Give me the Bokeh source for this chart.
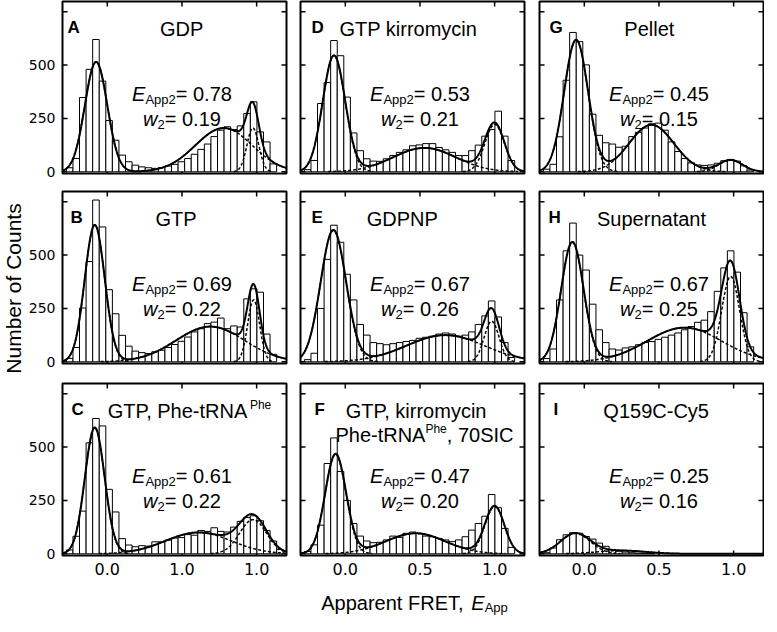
import math
import numpy as np
from bokeh.plotting import figure
from bokeh.models import Range1d, FixedTicker, Label, ColumnDataSource
from bokeh.layouts import column, row
from bokeh.embed import file_html
from bokeh.resources import INLINE

# ---------------- data ----------------
BIN_CENTERS = [-0.252, -0.208, -0.164, -0.120, -0.076, -0.032, 0.012, 0.056, 0.100, 0.144,
               0.188, 0.232, 0.276, 0.320, 0.364, 0.408, 0.452, 0.496, 0.540, 0.584,
               0.628, 0.672, 0.716, 0.760, 0.804, 0.848, 0.892, 0.936, 0.980, 1.024,
               1.068, 1.112, 1.156]
BIN_WIDTH = 0.044

COUNTS_A = [19, 62, 348, 480, 620, 425, 240, 148, 78, 47, 31, 23, 19, 16, 20, 27, 35, 47, 62, 82,
            105, 130, 165, 195, 211, 198, 215, 273, 328, 187, 140, 37, 0]
COUNTS_B = [16, 67, 252, 470, 758, 632, 338, 225, 124, 73, 50, 43, 39, 47, 54, 67, 81, 96, 116, 140,
            155, 179, 186, 205, 155, 168, 163, 295, 342, 326, 130, 35, 0]
COUNTS_C = [18, 82, 200, 520, 634, 599, 302, 196, 71, 41, 33, 38, 36, 56, 56, 64, 74, 76, 90, 87,
            109, 105, 122, 105, 102, 125, 152, 170, 178, 155, 109, 60, 20]
COUNTS_D = [10, 53, 320, 418, 615, 544, 350, 182, 99, 61, 50, 49, 61, 76, 91, 103, 122, 126, 132, 132,
            114, 103, 91, 76, 76, 99, 125, 167, 198, 284, 167, 53, 0]
COUNTS_E = [10, 40, 250, 480, 640, 560, 410, 290, 175, 125, 90, 85, 80, 85, 90, 95, 100, 110, 115, 120,
            130, 135, 130, 120, 125, 140, 175, 215, 285, 210, 90, 20, 0]
COUNTS_F = [11, 42, 134, 423, 543, 386, 250, 142, 83, 60, 52, 54, 65, 83, 77, 96, 102, 96, 83, 80,
            72, 65, 57, 65, 80, 111, 142, 176, 278, 216, 119, 30, 0]
COUNTS_G = [12, 35, 164, 429, 653, 610, 501, 270, 171, 136, 130, 115, 120, 165, 185, 205, 225, 228, 195, 140,
            95, 62, 42, 32, 30, 32, 40, 52, 58, 50, 28, 8, 0]
COUNTS_H = [15, 60, 290, 520, 650, 500, 430, 270, 150, 90, 60, 55, 65, 70, 80, 90, 95, 105, 115, 125,
            135, 150, 165, 185, 195, 235, 330, 440, 520, 420, 230, 70, 0]
COUNTS_I = [5, 27, 66, 89, 99, 96, 81, 69, 50, 35, 20, 12, 8, 5, 3, 2, 1, 0, 0, 0,
            0, 0, 0, 0, 0, 0, 0, 0, 0, 0, 0, 0, 0]

# Gaussian fit components (amplitude, centre, width)
FIT_A = [(515, -0.075, 0.075), (205, 0.78, 0.19), (205, 0.975, 0.04)]
FIT_B = [(641, -0.084, 0.067), (165, 0.69, 0.23), (290, 0.98, 0.04)]
FIT_C = [(591, -0.084, 0.066), (100, 0.61, 0.22), (160, 0.976, 0.09)]
FIT_D = [(544, -0.076, 0.075), (112, 0.53, 0.21), (222, 1.00, 0.065)]
FIT_E = [(616, -0.080, 0.085), (125, 0.67, 0.26), (190, 0.98, 0.05)]
FIT_F = [(466, -0.065, 0.070), (96, 0.47, 0.20), (222, 1.00, 0.065)]
FIT_G = [(618, -0.055, 0.080), (220, 0.45, 0.15), (55, 0.98, 0.08)]
FIT_H = [(560, -0.080, 0.075), (160, 0.67, 0.25), (400, 0.98, 0.06)]
FIT_I = [(95, -0.060, 0.100), (15, 0.25, 0.16)]

LETTERS = ["A", "B", "C", "D", "E", "F", "G", "H", "I"]
E_APP2 = ["0.78", "0.69", "0.61", "0.53", "0.67", "0.47", "0.45", "0.67", "0.25"]
W2 = ["0.19", "0.22", "0.22", "0.21", "0.26", "0.20", "0.15", "0.25", "0.16"]

X_TICKS = [0.0, 0.5, 1.0]
X_TICK_LABELS = ["0.0", "0.5", "1.0"]
X_TICK_LABELS_C = ["0.0", "1.0", "1.0"]
Y_TICKS = [0, 250, 500, 750]
Y_TICK_LABELS = ["0", "250", "500", ""]

Y_LABEL = "Number of Counts"
X_LABEL = "Apparent FRET, "

# ---------------- layout / style ----------------
FW, FH = 224, 172
X0, X1 = -0.3, 1.2
Y0, Y1 = -8, 798
YL_W = 25
COL_BORDERS = [(34, 7), (7, 7), (8, 1)]
ROW_BORDERS = [(1, 9), (9, 10), (10, 26)]
XL_H = 35
FONT = "Liberation Sans"
TICK_FONT = "DejaVu Sans"
TICK_LEN = 5

ARIAL = {' ': 278, ',': 278, '-': 333, '.': 278, '=': 584, 'A': 667, 'C': 722, 'E': 667,
         'F': 611, 'G': 778, 'I': 278, 'N': 722, 'P': 667, 'R': 722, 'S': 667, 'T': 611,
         'a': 556, 'e': 556, 'h': 556, 'n': 556, 'p': 556, 'r': 333, 't': 278, 'w': 722}


def tw(s, size):
    return sum(ARIAL.get(c, 556) for c in s) * size / 1000.0


def ydata(d):
    return Y1 - d * (Y1 - Y0) / FH


def rich(p, x, y, parts, dx=0.0, dy=0.0, align="center"):
    total = sum(tw(t, s) for t, s, _, _ in parts)
    cur = dx - total / 2.0 if align == "center" else dx
    for t, s, style, off in parts:
        p.add_layout(Label(x=x, y=y, x_offset=cur, y_offset=dy + off, text=t,
                           text_font=FONT, text_font_size=f"{s}px", text_font_style=style,
                           text_color="black", text_align="left", text_baseline="alphabetic"))
        cur += tw(t, s)


def style_axis(ax, ticks, labels, size):
    ax.ticker = FixedTicker(ticks=ticks)
    ax.major_label_overrides = {t: l for t, l in zip(ticks, labels)}
    ax.axis_line_color = None
    ax.major_tick_in = 0
    ax.major_tick_out = 0
    ax.minor_tick_in = 0
    ax.minor_tick_out = 0
    ax.major_label_text_font = TICK_FONT
    ax.major_label_text_font_size = f"{size}px"
    ax.major_label_text_color = "black"
    ax.major_label_standoff = 7


def make_panel(i, counts, fit, title_parts, letter_dx, col, rw, xlabels):
    lb, rb = COL_BORDERS[col]
    tb, bb = ROW_BORDERS[rw]
    p = figure(frame_width=FW, frame_height=FH, x_range=Range1d(X0, X1), y_range=Range1d(Y0, Y1),
               output_backend="svg", toolbar_location=None,
               x_axis_location="below" if rw == 2 else None,
               y_axis_location="left" if col == 0 else None,
               min_border_left=lb, min_border_right=rb, min_border_top=tb, min_border_bottom=bb)
    p.grid.visible = False
    p.outline_line_color = "black"
    p.outline_line_width = 2
    p.background_fill_color = "white"
    p.border_fill_color = "white"
    if rw == 2:
        style_axis(p.xaxis[0], X_TICKS, xlabels, 16)
    if col == 0:
        style_axis(p.yaxis[0], Y_TICKS, Y_TICK_LABELS, 14)

    # inward ticks on all four sides
    ly = TICK_LEN * (Y1 - Y0) / FH
    lx = TICK_LEN * (X1 - X0) / FW
    nx, ny = len(X_TICKS), len(Y_TICKS)
    p.segment(x0=X_TICKS, y0=[Y0] * nx, x1=X_TICKS, y1=[Y0 + ly] * nx, line_color="black", line_width=1.5)
    p.segment(x0=X_TICKS, y0=[Y1] * nx, x1=X_TICKS, y1=[Y1 - ly] * nx, line_color="black", line_width=1.5)
    p.segment(x0=[X0] * ny, y0=Y_TICKS, x1=[X0 + lx] * ny, y1=Y_TICKS, line_color="black", line_width=1.5)
    p.segment(x0=[X1] * ny, y0=Y_TICKS, x1=[X1 - lx] * ny, y1=Y_TICKS, line_color="black", line_width=1.5)

    xs_b = [c for c, n in zip(BIN_CENTERS, counts) if n > 0]
    ns_b = [n for n in counts if n > 0]
    src = ColumnDataSource(dict(x=xs_b, top=ns_b))
    p.vbar(x="x", top="top", bottom=0, width=BIN_WIDTH, source=src,
           fill_color="white", line_color="black", line_width=1)

    xs = np.linspace(X0, X1, 600)
    comps = [a * np.exp(-0.5 * ((xs - m) / s) ** 2) for a, m, s in fit]
    for c in comps:
        cm = np.where(c > 1.0, c, np.nan)
        p.line(xs, cm, line_color="black", line_width=1.5, line_dash="3 2")
    p.line(xs, np.sum(comps, axis=0), line_color="black", line_width=2)

    p.add_layout(Label(x=X0, y=ydata(26), x_offset=letter_dx, text=LETTERS[i], text_font=FONT,
                       text_font_style="bold", text_font_size="17px", text_color="black",
                       text_align="left", text_baseline="alphabetic"))
    for (tx, d, parts) in title_parts:
        rich(p, tx, ydata(d), parts)
    rich(p, 0.5, ydata(92), [("E", 20, "italic", 0), ("App2", 13, "normal", -6),
                              ("= " + E_APP2[i], 20, "normal", 0)])
    rich(p, 0.5, ydata(117), [("w", 20, "italic", 0), ("2", 13, "normal", -6),
                               ("= " + W2[i], 20, "normal", 0)])
    return p


N = 20
S = 12
TITLES = {
    0: [(0.487, 27, [("GDP", N, "normal", 0)])],
    1: [(0.46, 27, [("GTP", N, "normal", 0)])],
    2: [(0.55, 27, [("GTP, Phe-tRNA", N, "normal", 0), ("Phe", S, "normal", 6)])],
    3: [(0.46, 27, [("GTP kirromycin", N, "normal", 0)])],
    4: [(0.37, 27, [("GDPNP", N, "normal", 0)])],
    5: [(0.52, 27, [("GTP, kirromycin", N, "normal", 0)]),
        (0.53, 51, [("Phe-tRNA", N, "normal", 0), ("Phe", S, "normal", 6), (", 70SIC", N, "normal", 0)])],
    6: [(0.48, 27, [("Pellet", N, "normal", 0)])],
    7: [(0.45, 27, [("Supernatant", N, "normal", 0)])],
    8: [(0.47, 27, [("Q159C-Cy5", N, "normal", 0)])],
}
LETTER_DX = [5, 8, 9, 11, 11, 14, 10, 9, 14]

COUNTS = [COUNTS_A, COUNTS_B, COUNTS_C, COUNTS_D, COUNTS_E, COUNTS_F, COUNTS_G, COUNTS_H, COUNTS_I]
FITS = [FIT_A, FIT_B, FIT_C, FIT_D, FIT_E, FIT_F, FIT_G, FIT_H, FIT_I]

panels = []
for i in range(9):
    col, rw = i // 3, i % 3
    xl = X_TICK_LABELS_C if i == 2 else X_TICK_LABELS
    panels.append(make_panel(i, COUNTS[i], FITS[i], TITLES[i], LETTER_DX[i], col, rw, xl))

grid_h = sum(t + FH + b for t, b in ROW_BORDERS)
grid_w = sum(l + FW + r for l, r in COL_BORDERS)


def blank_fig(w, h):
    f = figure(frame_width=w, frame_height=h, x_range=Range1d(0, w), y_range=Range1d(0, h),
               output_backend="svg", toolbar_location=None, x_axis_location=None, y_axis_location=None,
               min_border_left=0, min_border_right=0, min_border_top=0, min_border_bottom=0)
    f.grid.visible = False
    f.outline_line_color = None
    f.background_fill_color = "white"
    f.border_fill_color = "white"
    return f


# y-axis title (left strip)
ylab = blank_fig(YL_W, grid_h)
ylab.add_layout(Label(x=YL_W / 2.0, y=grid_h - 288, angle=math.pi / 2, text=Y_LABEL,
                      text_font=FONT, text_font_size="21px", text_color="black",
                      text_align="center", text_baseline="middle"))

# x-axis title (bottom strip)
xlab = blank_fig(grid_w, XL_H)
rich(xlab, 389, 14, [(X_LABEL, 20, "normal", 0), ("E", 20, "italic", 0), ("App", 13, "normal", -5)])

grid = column(
    row(panels[0], panels[3], panels[6]),
    row(panels[1], panels[4], panels[7]),
    row(panels[2], panels[5], panels[8]),
    xlab,
)
layout = row(ylab, grid)

open("out.html", "w").write(file_html(layout, INLINE, "FRET histograms"))
